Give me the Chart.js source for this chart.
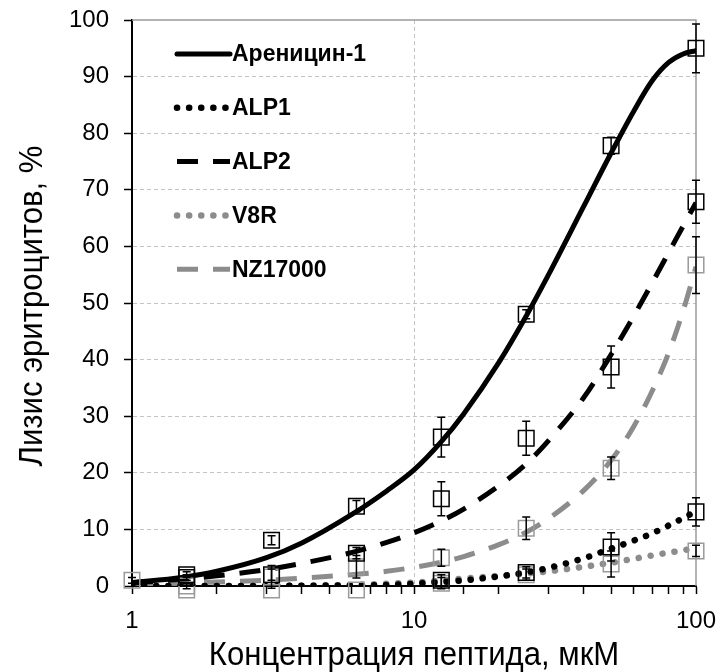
<!DOCTYPE html>
<html>
<head>
<meta charset="utf-8">
<script src="https://cdn.jsdelivr.net/npm/chart.js@4/dist/chart.umd.min.js"></script>
<style>
  html, body { margin: 0; padding: 0; background: #fff; }
  #wrap { width: 720px; height: 672px; }
</style>
</head>
<body>
<div id="wrap"><canvas id="chart" width="720" height="672"></canvas></div>
<script>
var SANS = "'Liberation Sans', Arial, sans-serif";

// measured concentrations, uM
var conc = [1, 1.5625, 3.125, 6.25, 12.5, 25, 50, 100];

// measured lysis, %  (null = no marker visible)
var arenicinPts = [null, 2, 8.1, 14.1, 26.3, 48, 77.8, 95];
var arenicinErr = [0, 0.5, 0.8, 1, 3.5, 0.8, 1.5, 4.3];
var alp1Pts = [null, null, null, null, 1, 2.4, 6.9, 13.1];
var alp1Err = [0, 0, 0, 0, 1, 1, 2.5, 2.5];
var alp2Pts = [null, 1.5, 2, 5.8, 15.4, 26.1, 38.7, 67.9];
var alp2Err = [0, 0.5, 1, 1, 3, 3, 3.7, 3.8];
var v8rPts = [null, -0.7, -0.7, -0.7, 0.5, 2, 3.9, 6.2];
var v8rErr = [0, 0, 0, 0, 1, 1, 2.3, 1];
var nzPts = [1, 0, 1.6, 3.4, 5, 10.2, 20.8, 56.7];
var nzErr = [0.5, 0.5, 2, 2, 1.5, 2, 2, 5];

// fitted curves
var fitX = [1, 1.5, 2, 3, 4, 6, 8, 10, 12.5, 15, 20, 25, 30, 40, 50, 60, 70, 80, 90, 100];
var arenicinFit = [0.6, 1.5, 2.6, 5.0, 7.6, 12.6, 16.8, 20.5, 25.5, 30.4, 39.5, 47.7, 55, 67.1, 76.5, 83.8, 89.3, 92.5, 94, 94.6];
var alp1Fit = [0, 0, 0, 0, 0.05, 0.1, 0.2, 0.4, 0.7, 1, 1.7, 2.4, 3.2, 4.9, 6.6, 8, 9.3, 10.7, 12, 13.2];
var alp2Fit = [0.5, 1.2, 1.8, 2.9, 4.0, 5.9, 7.7, 9.4, 11.5, 13.6, 17.7, 21.6, 25.7, 33.3, 40.9, 47.6, 53.6, 58.9, 63.6, 67.7];
var v8rFit = [0, 0, 0, 0, 0.05, 0.2, 0.4, 0.6, 1, 1.3, 1.8, 2.2, 2.6, 3.4, 4.1, 4.8, 5.4, 5.9, 6.3, 6.7];
var nzFit = [0.3, 0.5, 0.7, 1.0, 1.4, 2.0, 2.6, 3.3, 4.2, 5.2, 7.3, 9.5, 11.9, 16.9, 22.2, 28.1, 34.5, 41.2, 48.6, 56.4];

var seriesNames = ['Ареницин-1', 'ALP1', 'ALP2', 'V8R', 'NZ17000'];
var xTickLabels = [1, 10, 100];
var yTitle = 'Лизис эритроцитов, %';
var xTitle = 'Концентрация пептида, мкМ';

var GRAY_LINE = '#8c8c8c';
var GRAY_MARK = '#9a9a9a';

function toXY(xs, ys) {
    var out = [];
    for (var i = 0; i < xs.length; i++) {
        out.push({x: xs[i], y: ys[i]});
    }
    return out;
}

function fitSet(name, ys, color, dash, cap) {
    return {
        legendLabel: name,
        data: toXY(fitX, ys),
        showLine: true,
        borderColor: color,
        borderWidth: dash.length && dash[0] < 1 ? 6.5 : 5,
        borderDash: dash,
        borderCapStyle: cap,
        cubicInterpolationMode: 'monotone',
        pointRadius: 0,
        pointHoverRadius: 0,
        fill: false,
        order: 2
    };
}

function pointSet(ys, errs, color) {
    return {
        data: toXY(conc, ys),
        errors: errs,
        showLine: false,
        pointStyle: 'rect',
        pointRadius: 11,
        pointHoverRadius: 11,
        pointBorderWidth: 1.5,
        pointBorderColor: color,
        pointBackgroundColor: 'rgba(0,0,0,0)',
        clip: false,
        order: 1
    };
}

var DOT = [0.1, 12];
var DASH = [21, 15];

var datasets = [
    fitSet(seriesNames[0], arenicinFit, '#000', [], 'round'),
    fitSet(seriesNames[1], alp1Fit, '#000', DOT, 'round'),
    fitSet(seriesNames[2], alp2Fit, '#000', DASH, 'butt'),
    fitSet(seriesNames[3], v8rFit, GRAY_LINE, DOT, 'round'),
    fitSet(seriesNames[4], nzFit, GRAY_LINE, DASH, 'butt'),
    pointSet(arenicinPts, arenicinErr, '#000'),
    pointSet(alp1Pts, alp1Err, '#000'),
    pointSet(alp2Pts, alp2Err, '#000'),
    pointSet(v8rPts, v8rErr, GRAY_MARK),
    pointSet(nzPts, nzErr, GRAY_MARK)
];

/* error bars through the scales */
var errorBars = {
    id: 'errorBars',
    afterDatasetsDraw: function(chart) {
        var ctx = chart.ctx;
        var yS = chart.scales.y;
        ctx.save();
        ctx.strokeStyle = '#000';
        ctx.lineWidth = 1.5;
        chart.data.datasets.forEach(function(ds, i) {
            if (!ds.errors) return;
            var meta = chart.getDatasetMeta(i);
            ds.data.forEach(function(d, j) {
                var e = ds.errors[j];
                if (d.y === null || !e) return;
                var x = meta.data[j].x;
                var y1 = yS.getPixelForValue(d.y + e);
                var y2 = yS.getPixelForValue(d.y - e);
                ctx.beginPath();
                ctx.moveTo(x, y1); ctx.lineTo(x, y2);
                ctx.moveTo(x - 4, y1); ctx.lineTo(x + 4, y1);
                ctx.moveTo(x - 4, y2); ctx.lineTo(x + 4, y2);
                ctx.stroke();
            });
        });
        ctx.restore();
    }
};

/* gray box on top and right */
var frame = {
    id: 'frame',
    beforeDatasetsDraw: function(chart) {
        var a = chart.chartArea;
        var ctx = chart.ctx;
        ctx.save();
        ctx.strokeStyle = '#9a9a9a';
        ctx.lineWidth = 1.5;
        ctx.beginPath();
        ctx.moveTo(a.left, a.top);
        ctx.lineTo(a.right, a.top);
        ctx.lineTo(a.right, a.bottom);
        ctx.stroke();
        ctx.restore();
    }
};

/* axis titles, a bit condensed like the original */
var axisTitles = {
    id: 'axisTitles',
    afterDraw: function(chart) {
        var a = chart.chartArea;
        var ctx = chart.ctx;
        ctx.save();
        ctx.fillStyle = '#000';
        ctx.font = '34px ' + SANS;
        ctx.textAlign = 'center';
        ctx.textBaseline = 'alphabetic';

        ctx.save();
        ctx.translate((a.left + a.right) / 2, 665);
        ctx.scale(0.915, 1);
        ctx.fillText(xTitle, 0, 0);
        ctx.restore();

        ctx.save();
        ctx.translate(42, (a.top + a.bottom) / 2 + 3);
        ctx.rotate(-Math.PI / 2);
        ctx.scale(0.915, 1);
        ctx.fillText(yTitle, 0, 0);
        ctx.restore();

        ctx.restore();
    }
};

/* legend inside the plot, top left */
var innerLegend = {
    id: 'innerLegend',
    afterDraw: function(chart) {
        var ctx = chart.ctx;
        var x0 = 177, x1 = 230, y0 = 54, step = 53.8;
        ctx.save();
        var k = 0;
        chart.data.datasets.forEach(function(ds) {
            if (!ds.legendLabel) return;
            var y = y0 + k * step;
            ctx.strokeStyle = ds.borderColor;
            ctx.lineWidth = ds.borderWidth;
            ctx.lineCap = ds.borderCapStyle;
            ctx.setLineDash(ds.borderDash);
            ctx.beginPath();
            ctx.moveTo(x0, y);
            ctx.lineTo(x1, y);
            ctx.stroke();
            ctx.setLineDash([]);
            ctx.fillStyle = '#000';
            ctx.font = 'bold 23px ' + SANS;
            ctx.textBaseline = 'middle';
            ctx.textAlign = 'left';
            ctx.fillText(ds.legendLabel, x1 + 2, y + 1);
            k++;
        });
        ctx.restore();
    }
};

function noPad(s) {
    s.paddingLeft = 0;
    s.paddingRight = 0;
    s.paddingTop = 0;
    s.paddingBottom = 0;
}

var chart = new Chart(document.getElementById('chart'), {
    type: 'scatter',
    data: {datasets: datasets},
    plugins: [frame, errorBars, axisTitles, innerLegend],
    options: {
        responsive: false,
        animation: false,
        layout: {padding: {top: 20, right: 24, left: 0, bottom: 0}},
        plugins: {
            legend: {display: false},
            tooltip: {enabled: false}
        },
        scales: {
            x: {
                type: 'logarithmic',
                min: 1,
                max: 100,
                afterFit: function(s) { s.height = 86; noPad(s); },
                ticks: {
                    autoSkip: false,
                    maxRotation: 0,
                    padding: 13,
                    color: '#000',
                    font: {family: SANS, size: 24},
                    callback: function(v) { return xTickLabels.indexOf(v) >= 0 ? String(v) : ''; }
                },
                grid: {
                    color: function(c) { return c.tick && c.tick.value === 10 ? '#c4c4c4' : 'rgba(0,0,0,0)'; },
                    tickColor: '#000',
                    tickLength: 8,
                    tickWidth: 1.5,
                    lineWidth: 1
                },
                border: {color: '#000', width: 2, dash: [4, 3]}
            },
            y: {
                min: 0,
                max: 100,
                afterFit: function(s) { s.width = 132; noPad(s); },
                ticks: {
                    stepSize: 10,
                    padding: 15,
                    color: '#000',
                    font: {family: SANS, size: 24}
                },
                grid: {
                    color: function(c) { return c.tick && (c.tick.value === 0 || c.tick.value === 100) ? 'rgba(0,0,0,0)' : '#c4c4c4'; },
                    tickColor: '#000',
                    tickLength: 8,
                    tickWidth: 1.5,
                    lineWidth: 1
                },
                border: {color: '#000', width: 2, dash: [4, 3]}
            }
        }
    }
});
</script>
</body>
</html>
